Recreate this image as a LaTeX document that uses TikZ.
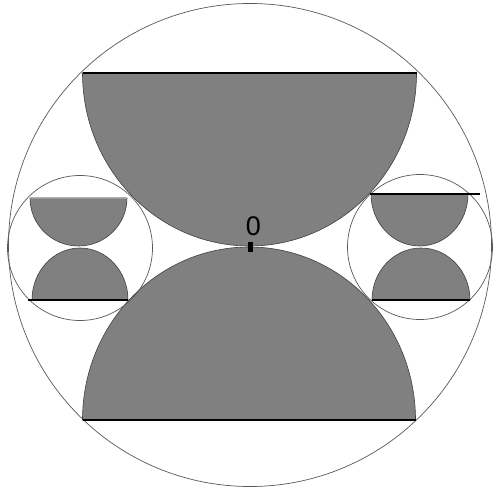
\documentclass[tikz,border=0pt]{standalone}
\usepackage{fontspec}
\setmainfont{Liberation Sans}
\begin{document}
\begin{tikzpicture}[x=1pt,y=1pt,
  ring/.style={draw=black!65,line width=0.7pt},
  seg/.style={fill=black!50,draw=black!75,line width=0.6pt},
  chord/.style={draw=black,line width=1.1pt}]
\useasboundingbox (0,0) rectangle (494,490);
\fill[white] (0,0) rectangle (494,490);
% big circle
\draw[ring] (250,245) circle[radius=241.5];
% big half-disks
\path[seg] (82.5,417) arc[start angle=180,end angle=360,x radius=167,y radius=173] -- cycle;
\path[seg] (415.5,70) arc[start angle=0,end angle=180,x radius=166.5,y radius=173] -- cycle;
\draw[chord] (82.5,417) -- (416.5,417);
\draw[chord] (82.5,70) -- (415.5,70);
% left small circle
\draw[ring] (80,242) circle[radius=72.5];
\path[seg] (30,292) arc[start angle=180,end angle=360,x radius=48.5,y radius=48] -- cycle;
\draw[draw=black!40,line width=0.8pt] (30,292) -- (127,292);
\path[seg] (128,190) arc[start angle=0,end angle=180,x radius=48,y radius=52] -- cycle;
\draw[chord] (28,190) -- (128,190);
% right small circle
\draw[ring] (420,243) circle[radius=72.5];
\path[seg] (371,296) arc[start angle=180,end angle=360,x radius=48.5,y radius=52] -- cycle;
\draw[chord] (370,296) -- (480,296);
\path[seg] (470,190) arc[start angle=0,end angle=180,x radius=49,y radius=52] -- cycle;
\draw[chord] (372,190) -- (470,190);
% origin mark and label
\fill[black] (248,238) rectangle (252.5,247.5);
\node[inner sep=0pt] (zero) at (253.5,264) {\fontsize{27}{27}\selectfont 0};
\end{tikzpicture}
\end{document}
